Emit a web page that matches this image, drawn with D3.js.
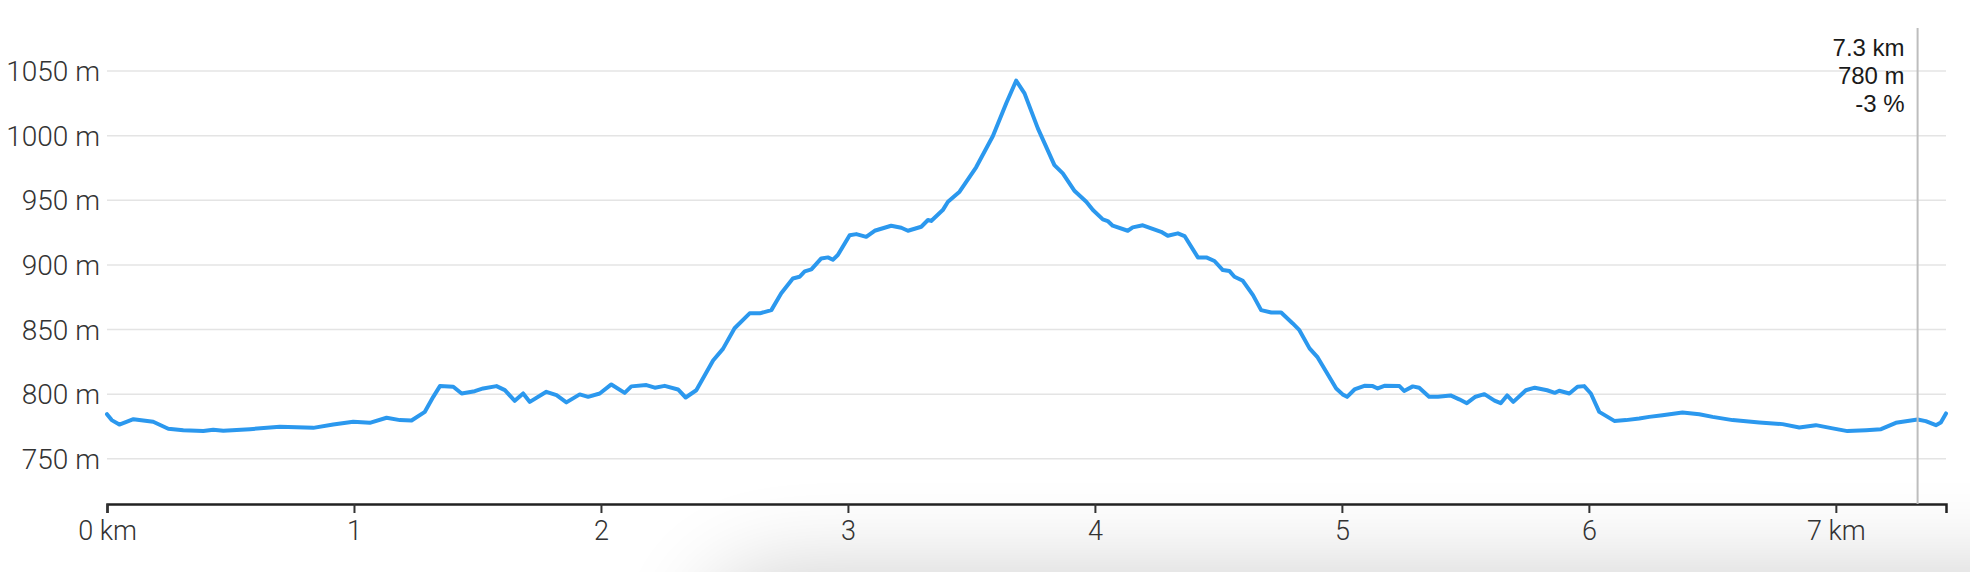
<!DOCTYPE html>
<html>
<head>
<meta charset="utf-8">
<script src="https://cdn.jsdelivr.net/npm/d3@7/dist/d3.min.js"></script>
<style>
  html, body { margin: 0; padding: 0; background: #fff; overflow: hidden; }
  #wrap { position: relative; width: 1970px; height: 572px; overflow: hidden; background: #fff; }
  #shadow { position: absolute; left: 730px; top: 598px; width: 1400px; height: 300px;
            border-radius: 50px; background: #fff;
            box-shadow: 0 0 90px 28px rgba(0,0,0,0.19); }
  svg { position: absolute; left: 0; top: 0; }
</style>
</head>
<body>
<div id="wrap"><div id="shadow"></div><svg id="chart" width="1970" height="572"></svg></div>
<script>
// ---- data ----
const distanceKm = [
  0.000, 0.019, 0.050, 0.107, 0.187, 0.248, 0.309, 0.390, 0.430, 0.471,
  0.579, 0.700, 0.835, 0.916, 0.997, 1.064, 1.132, 1.186, 1.233, 1.287,
  1.321, 1.348, 1.402, 1.436, 1.489, 1.523, 1.577, 1.611, 1.651, 1.685,
  1.712, 1.779, 1.820, 1.860, 1.914, 1.948, 1.995,
  2.042, 2.096, 2.123, 2.184, 2.218, 2.258, 2.312, 2.343, 2.386, 2.454,
  2.494, 2.541, 2.602, 2.643, 2.690, 2.730, 2.777, 2.804, 2.825, 2.852,
  2.892, 2.919, 2.939, 2.959, 3.007, 3.034, 3.074, 3.108, 3.175, 3.216,
  3.243, 3.297, 3.324, 3.337, 3.384, 3.405,
  3.452, 3.519, 3.587, 3.641, 3.681, 3.715, 3.769, 3.836, 3.870, 3.918,
  3.965, 3.992, 4.032, 4.052, 4.072, 4.133, 4.153, 4.194, 4.268, 4.295,
  4.336, 4.363, 4.417, 4.451, 4.484, 4.518, 4.545, 4.565, 4.599, 4.640,
  4.673, 4.714, 4.754, 4.801, 4.828, 4.869, 4.902, 4.977, 5.003, 5.021,
  5.051, 5.091, 5.125, 5.145, 5.172, 5.233,
  5.252, 5.287, 5.313, 5.353, 5.389, 5.440, 5.475, 5.506, 5.541, 5.577,
  5.618, 5.643, 5.669, 5.694, 5.745, 5.781, 5.831, 5.862,
  5.880, 5.921, 5.954, 5.981, 6.008, 6.042, 6.103, 6.150, 6.204, 6.244,
  6.298, 6.379, 6.447, 6.501, 6.582, 6.690, 6.784, 6.852, 6.919, 6.987,
  7.047, 7.122, 7.183, 7.243, 7.331, 7.364, 7.405, 7.425, 7.446
];
const elevationM = [
  784.5, 779.9, 776.5, 780.6, 778.6, 773.2, 772.1, 771.4, 772.4, 771.6,
  772.9, 774.7, 773.9, 776.5, 778.6, 777.8, 781.7, 779.9, 779.6, 786.3,
  797.9, 806.2, 805.7, 800.5, 802.3, 804.4, 806.2, 803.1, 794.8, 800.5,
  794.0, 801.8, 799.2, 793.6, 799.8, 797.9, 800.5,
  807.5, 801.0, 806.0, 807.0, 805.0, 806.4, 803.6, 797.4, 803.0, 826.0,
  835.0, 851.0, 862.5, 862.5, 865.0, 878.0, 889.5, 890.8, 895.0, 896.5,
  905.0, 905.8, 904.0, 907.6, 923.0, 923.8, 921.7, 926.4, 930.3, 928.7,
  926.4, 929.5, 934.7, 934.0, 942.4, 948.8,
  956.6, 975.5, 999.7, 1025.0, 1042.5, 1032.7, 1005.6, 977.2, 970.8, 957.1,
  948.8, 942.4, 935.2, 933.9, 930.3, 926.4, 929.0, 930.6, 925.6, 922.5,
  924.4, 922.3, 905.8, 905.8, 903.0, 896.0, 895.2, 890.8, 887.7, 876.6,
  865.0, 863.2, 863.2, 854.7, 849.5, 835.4, 828.4, 804.4, 799.8, 797.9,
  803.6, 806.4, 806.2, 804.4, 806.4, 806.2,
  802.5, 806.0, 805.0, 798.0, 798.0, 799.0, 796.0, 793.0, 798.0, 800.0,
  795.0, 793.0, 799.0, 794.0, 803.0, 805.0, 803.0, 801.0,
  802.6, 800.5, 805.7, 806.2, 800.5, 786.3, 779.3, 779.9, 781.2, 782.4,
  783.7, 785.8, 784.5, 782.4, 779.9, 778.1, 776.8, 774.2, 776.0, 773.5,
  771.4, 772.1, 772.9, 777.8, 780.4, 779.1, 776.0, 778.1, 785.1
];
const yTicks = [750, 800, 850, 900, 950, 1000, 1050];
const xTicks = [0, 1, 2, 3, 4, 5, 6, 7];
const cursorKm = 7.331;
const cursorLabels = ["7.3 km", "780 m", "-3 %"];

// ---- chart ----
const svg = d3.select("#chart");
const x = d3.scaleLinear().domain([0, d3.max(distanceKm)]).range([107, 1946]);
const y = d3.scaleLinear().domain([715, 1050]).range([504, 71]);

const data = distanceKm.map((d, i) => ({ d, e: elevationM[i] }));

// gridlines
svg.append("g").selectAll("line").data(yTicks).join("line")
  .attr("x1", x.range()[0]).attr("x2", x.range()[1])
  .attr("y1", d => y(d)).attr("y2", d => y(d))
  .attr("stroke", "#e4e4e4").attr("stroke-width", 1.5);

// y labels
svg.append("g").selectAll("text").data(yTicks).join("text")
  .attr("x", 100).attr("y", d => y(d)).attr("dy", "0.36em")
  .attr("text-anchor", "end")
  .style("font-family", "Roboto, sans-serif").style("font-weight", 300)
  .style("font-size", "28px").attr("fill", "#333")
  .text(d => d + " m");

// x axis
const xAxis = d3.axisBottom(x).tickValues(xTicks).tickSize(9).tickSizeOuter(9).tickPadding(8)
  .tickFormat((d, i) => (i === 0 || i === xTicks.length - 1) ? d + " km" : d);
const gx = svg.append("g").attr("transform", "translate(0,504)").call(xAxis);
gx.select(".domain").attr("stroke", "#222").attr("stroke-width", 2.5);
gx.selectAll(".tick line").attr("stroke", "#333").attr("stroke-width", 2);
gx.selectAll(".tick text")
  .style("font-family", "Roboto, sans-serif").style("font-weight", 300)
  .style("font-size", "27px").attr("fill", "#333");

// profile line
const line = d3.line().x(p => x(p.d)).y(p => y(p.e));
svg.append("path").datum(data)
  .attr("d", line)
  .attr("fill", "none")
  .attr("stroke", "#2b98ee")
  .attr("stroke-width", 4)
  .attr("stroke-linejoin", "round")
  .attr("stroke-linecap", "round");

// cursor
svg.append("line")
  .attr("x1", x(cursorKm)).attr("x2", x(cursorKm))
  .attr("y1", 28).attr("y2", 504)
  .attr("stroke", "#bdbdbd").attr("stroke-width", 2);
svg.append("g").selectAll("text").data(cursorLabels).join("text")
  .attr("x", x(cursorKm) - 13).attr("y", (d, i) => 56 + i * 28)
  .attr("text-anchor", "end")
  .style("font-family", "'Liberation Sans', Arial, sans-serif")
  .style("font-size", "24px").attr("fill", "#1a1a1a")
  .text(d => d);
</script>
</body>
</html>
